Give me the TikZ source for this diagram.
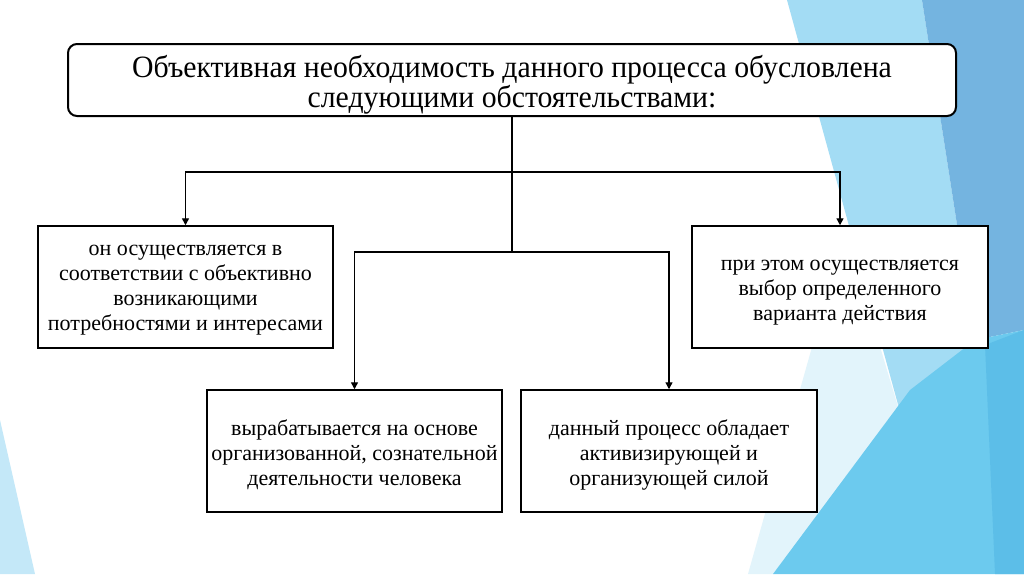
\documentclass[tikz,border=0pt]{standalone}
\usepackage{fontspec}
\setmainfont{Liberation Serif}
\newfontfamily\condfont[FakeStretch=0.96]{Liberation Serif}
\usetikzlibrary{arrows.meta}
\definecolor{steelb}{HTML}{74B4E0}
\definecolor{lightb}{HTML}{A3DCF4}
\definecolor{paleb}{HTML}{E2F4FB}
\definecolor{cyanb}{HTML}{6CCAEE}
\definecolor{cyand}{HTML}{5CBEE8}
\definecolor{wedgeb}{HTML}{C4E8F8}
\begin{document}
\begin{tikzpicture}[x=1pt,y=-1pt,
  box/.style={draw=black, line width=1.5pt, fill=white, inner sep=0pt},
  boxtext/.style={inner sep=0pt, align=center, font=\fontsize{22}{25}\selectfont},
  topbox/.style={draw=black, line width=2pt, fill=white, rounded corners=9pt, inner sep=0pt},
  toptext/.style={inner sep=0pt, align=center, font=\condfont\fontsize{31}{30}\selectfont},
  conn/.style={line width=1.4pt, draw=black},
  arr/.style={conn, -{Triangle[length=7pt,width=7pt]}}]
\useasboundingbox (0,0) rectangle (1024,574);
\fill[white] (0,0) rectangle (1024,574);
% background decoration
\fill[wedgeb] (0,420) -- (35,574) -- (0,574) -- cycle;
\fill[paleb] (845,230) -- (905,430) -- (773,574) -- (748,574) -- cycle;
\fill[lightb] (787,0) -- (922,0) -- (975,340) -- (905,430) -- cycle;
\fill[steelb] (922,0) -- (1024,0) -- (1024,330) -- (975,340) -- cycle;
\fill[cyanb] (773,574) -- (910,390) -- (975,340) -- (1024,330) -- (1024,574) -- cycle;
\fill[cyand] (985,345) -- (1024,330) -- (1024,574) -- (995,574) -- cycle;
% boxes
\node[topbox, minimum width=888pt, minimum height=72pt] (top) at (512,80) {};
\node[box, minimum width=295pt, minimum height=122pt] (left) at (185.5,287) {};
\node[box, minimum width=296pt, minimum height=122pt] (right) at (840,287) {};
\node[box, minimum width=295pt, minimum height=122pt] (bl) at (354.5,451) {};
\node[box, minimum width=296pt, minimum height=122pt] (br) at (669,451) {};
% texts
\node[toptext] (toptxt) at ([yshift=-5pt]top.center)
  {Объективная необходимость данного процесса обусловлена\\следующими обстоятельствами:};
\node[boxtext] (lefttxt) at ([yshift=-3pt]left.center)
  {он осуществляется в\\соответствии с объективно\\возникающими\\потребностями и интересами};
\node[boxtext] (righttxt) at ([yshift=-6pt]right.center)
  {при этом осуществляется\\выбор определенного\\варианта действия};
\node[boxtext] (bltxt) at ([yshift=-4pt]bl.center)
  {вырабатывается на основе\\организованной, сознательной\\деятельности человека};
\node[boxtext] (brtxt) at ([yshift=-4pt]br.center)
  {данный процесс обладает\\активизирующей и\\организующей силой};
\coordinate (j1) at (512,172);
\coordinate (j2) at (512,252);
% connectors
\draw[conn] (top.south) -- (j2);
\draw[arr] (j1) -| (left.north);
\draw[arr] (j1) -| (right.north);
\draw[arr] (j2) -| (bl.north);
\draw[arr] (j2) -| (br.north);
\end{tikzpicture}
\end{document}
